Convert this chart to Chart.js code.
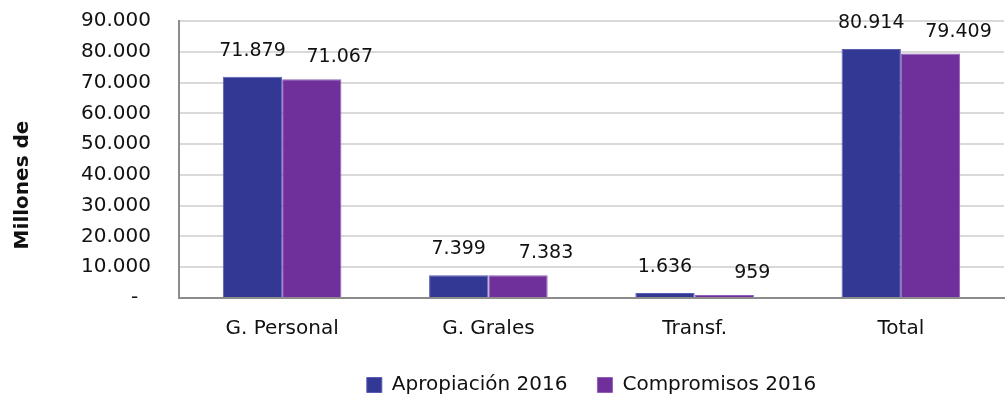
<!DOCTYPE html>
<html>
<head>
<meta charset="utf-8">
<script src="https://cdn.jsdelivr.net/npm/chart.js@4.4.1/dist/chart.umd.min.js"></script>
<style>
  html, body { margin: 0; padding: 0; background: #fff; }
  .chart-container { position: relative; width: 1007px; height: 402px; }
</style>
</head>
<body>
<div class="chart-container">
  <canvas id="chart"></canvas>
</div>
<script>
const categories = ['G. Personal', 'G. Grales', 'Transf.', 'Total'];
const apropiacion = [71879, 7399, 1636, 80914];
const compromisos = [71067, 7383, 959, 79409];
const seriesNames = ['Apropiación 2016', 'Compromisos 2016'];
const yTicks = [0, 10000, 20000, 30000, 40000, 50000, 60000, 70000, 80000, 90000];
const yTitle = 'Millones de';

const FONT = "'DejaVu Sans', sans-serif";

const fmt = (v) => v === 0 ? '-' : v.toLocaleString('de-DE');

// numbers above the bars (second series sits a bit to the right, like excel did it)
const labelShift = [{ dx: 0, dy: 26 }, { dx: 28, dy: 22 }];
const valueLabels = {
  id: 'valueLabels',
  afterDatasetsDraw(chart) {
    const ctx = chart.ctx;
    ctx.save();
    ctx.font = '19px ' + FONT;
    ctx.fillStyle = '#111';
    ctx.textAlign = 'center';
    ctx.textBaseline = 'middle';
    chart.data.datasets.forEach((ds, i) => {
      const s = labelShift[i];
      chart.getDatasetMeta(i).data.forEach((bar, j) => {
        ctx.fillText(fmt(ds.data[j]), bar.x + s.dx, bar.y - s.dy);
      });
    });
    ctx.restore();
  }
};

// y axis title, sits a bit below the plot middle like the original
const axisTitle = {
  id: 'axisTitle',
  afterDraw(chart) {
    const ctx = chart.ctx;
    ctx.save();
    ctx.translate(23, 185);
    ctx.rotate(-Math.PI / 2);
    ctx.font = 'bold 20px ' + FONT;
    ctx.fillStyle = '#111';
    ctx.textAlign = 'center';
    ctx.textBaseline = 'middle';
    ctx.fillText(yTitle, 0, 0);
    ctx.restore();
  }
};

const ctx = document.getElementById('chart').getContext('2d');
new Chart(ctx, {
  type: 'bar',
  data: {
    labels: categories,
    datasets: [
      {
        label: seriesNames[0],
        data: apropiacion,
        backgroundColor: '#333894',
        borderColor: '#5a5db0',
        borderWidth: 1,
        categoryPercentage: 0.575,
        barPercentage: 1.0
      },
      {
        label: seriesNames[1],
        data: compromisos,
        backgroundColor: '#6f309b',
        borderColor: '#9060b8',
        borderWidth: 1,
        categoryPercentage: 0.575,
        barPercentage: 1.0
      }
    ]
  },
  options: {
    responsive: true,
    maintainAspectRatio: false,
    animation: false,
    layout: { padding: { top: 21, right: 3, left: 0, bottom: -3 } },
    plugins: {
      tooltip: { enabled: false },
      legend: {
        position: 'bottom',
        fullSize: false,
        labels: {
          font: { family: FONT, size: 20 },
          color: '#111',
          boxWidth: 15,
          boxHeight: 15,
          padding: 30
        }
      }
    },
    scales: {
      x: {
        grid: { display: false, drawTicks: false },
        border: { color: '#8c8c8c', width: 2 },
        ticks: {
          font: { family: FONT, size: 20 },
          color: '#111',
          padding: 19
        },
        afterFit(scale) { scale.height = 47; }
      },
      y: {
        min: 0,
        max: 90000,
        afterBuildTicks(scale) {
          scale.ticks = yTicks.map(v => ({ value: v }));
        },
        afterFit(scale) {
          scale.width = 179;
          scale.paddingTop = 0;
          scale.paddingBottom = 0;
        },
        grid: { color: '#d9d9d9', lineWidth: 2, drawTicks: false },
        border: { color: '#8c8c8c', width: 2 },
        ticks: {
          font: { family: FONT, size: 20 },
          color: '#111',
          padding: 28,
          callback: (v) => v === 0 ? '-  ' : fmt(v)
        }
      }
    }
  },
  plugins: [valueLabels, axisTitle]
});
</script>
</body>
</html>
